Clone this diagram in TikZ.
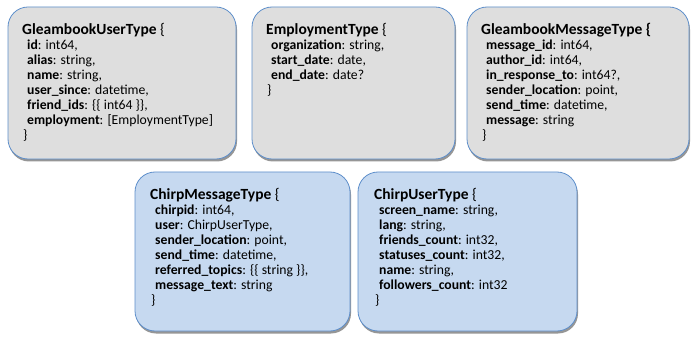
\documentclass[tikz,border=0pt]{standalone}
\usepackage{fontspec}
\setmainfont{Carlito}
\usetikzlibrary{shadows}
\definecolor{grayfill}{HTML}{DEDEDE}
\definecolor{bluefill}{HTML}{C6D9F0}
\definecolor{edgeblue}{HTML}{5E8FCB}
\newcommand{\fld}[2]{\hspace*{5pt}\textbf{#1}: #2}
\newcommand{\ttl}{\fontsize{15.5}{15}\selectfont}
\tikzset{
  box/.style={draw=edgeblue, line width=0.8pt, rounded corners=20pt, inner sep=0pt,
    drop shadow={shadow xshift=1pt, shadow yshift=-2.5pt, opacity=0.55, fill=black!75}},
  graybox/.style={box, fill=grayfill},
  bluebox/.style={box, fill=bluefill},
  txt/.style={anchor=north west, align=left, inner sep=0pt, font=\fontsize{13.7}{15}\selectfont},
}
\begin{document}
\begin{tikzpicture}[x=1pt,y=1pt]
\useasboundingbox (0,0) rectangle (691,-339);
\fill[white] (0,0) rectangle (691,-339);
% boxes
\path[graybox] (8,-7) rectangle (236,-159) coordinate (b1);
\path[graybox] (252,-7) rectangle (455,-159) coordinate (b2);
\path[graybox] (467,-7) rectangle (689,-159) coordinate (b3);
\path[bluebox] (135,-172) rectangle (350,-331) coordinate (b4);
\path[bluebox] (358,-172) rectangle (577,-331) coordinate (b5);
% texts
\node[txt] (t1) at (22,-23) {{\ttl\textbf{GleambookUserType} \{}\\
\fld{id}{int64,}\\
\fld{alias}{string,}\\
\fld{name}{string,}\\
\fld{user\_since}{datetime,}\\
\fld{friend\_ids}{\{\{ int64 \}\},}\\
\fld{employment}{[EmploymentType]}\\
\hspace*{1pt}\}};
\node[txt] (t2) at (266,-23) {{\ttl\textbf{EmploymentType} \{}\\
\fld{organization}{string,}\\
\fld{start\_date}{date,}\\
\fld{end\_date}{date?}\\
\hspace*{1pt}\}};
\node[txt] (t3) at (481,-23) {{\ttl\textbf{GleambookMessageType \{}}\\
\fld{message\_id}{int64,}\\
\fld{author\_id}{int64,}\\
\fld{in\_response\_to}{int64?,}\\
\fld{sender\_location}{point,}\\
\fld{send\_time}{datetime,}\\
\fld{message}{string}\\
\hspace*{1pt}\}};
\node[txt] (t4) at (150,-188) {{\ttl\textbf{ChirpMessageType} \{}\\
\fld{chirpid}{int64,}\\
\fld{user}{ChirpUserType,}\\
\fld{sender\_location}{point,}\\
\fld{send\_time}{datetime,}\\
\fld{referred\_topics}{\{\{ string \}\},}\\
\fld{message\_text}{string}\\
\hspace*{1pt}\}};
\node[txt] (t5) at (374,-188) {{\ttl\textbf{ChirpUserType} \{}\\
\fld{screen\_name}{string,}\\
\fld{lang}{string,}\\
\fld{friends\_count}{int32,}\\
\fld{statuses\_count}{int32,}\\
\fld{name}{string,}\\
\fld{followers\_count}{int32}\\
\hspace*{1pt}\}};
\end{tikzpicture}
\end{document}
